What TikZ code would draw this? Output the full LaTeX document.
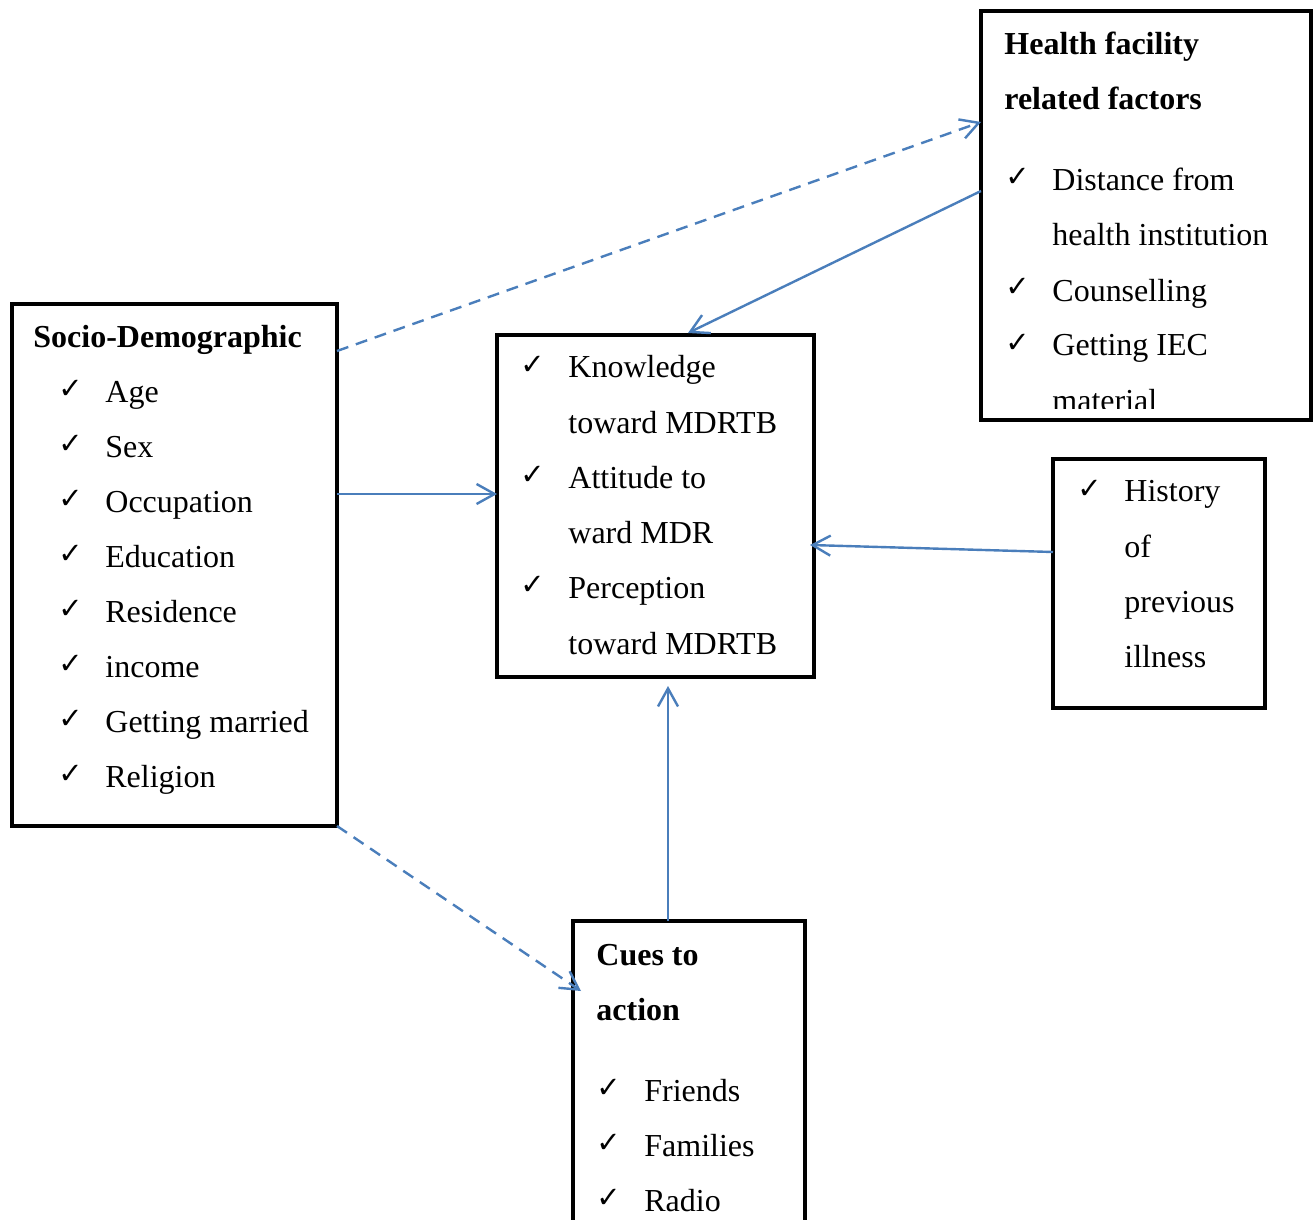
\documentclass[tikz,border=0pt]{standalone}
\usepackage{fontspec}
\setmainfont{Liberation Serif}
\newfontfamily\chkfont{DejaVu Sans}
\usetikzlibrary{arrows.meta}
\definecolor{arr}{HTML}{4A7EBB}
\begin{document}
\begin{tikzpicture}[x=0.5pt,y=-0.5pt,
 box/.style={draw, line width=2.25pt, inner sep=0, outer sep=0},
 txt/.style={anchor=base west, inner sep=0, font=\fontsize{16}{19}\selectfont},
 hd/.style={anchor=base west, inner sep=0, font=\fontsize{16}{19}\selectfont\bfseries},
 chk/.style={anchor=base west, inner sep=0, font=\chkfont\bfseries\fontsize{14.5}{17}\selectfont},
 link/.style={draw=arr, line width=1.2pt, -{Straight Barb[length=9pt,width=10pt]}},
 dlink/.style={link, dash pattern=on 6pt off 4pt}]
\useasboundingbox (0,0) rectangle (1314,1220);
\fill[white] (0,0) rectangle (1314,1220);

% boxes
\node[box, minimum width=162.5pt, minimum height=261pt] (socio) at (174.5,565) {};
\node[box, minimum width=158.5pt, minimum height=171pt] (center) at (655.5,506) {};
\node[box, minimum width=165pt, minimum height=204.5pt] (health) at (1146,215.5) {};
\node[box, minimum width=106pt, minimum height=124.5pt] (history) at (1159,583.5) {};
\node[inner sep=0, outer sep=0, minimum width=116pt, minimum height=154.5pt] (cues) at (689,1075.5) {};
\draw[line width=2.25pt] (cues.south west) -- (cues.north west) -- (cues.north east) -- (cues.south east);

% socio text
\node[hd] (sT) at (33,348) {Socio-Demographic};
\foreach \t [count=\i] in {Age,Sex,Occupation,Education,Residence,income,Getting married,Religion}{
  \node[chk] (sc\i) at (58,{398+55*(\i-1)}) {✓};
  \node[txt] (s\i) at (105,{402+55*(\i-1)}) {\t};
}

% center text
\foreach \t [count=\i] in {Knowledge,toward MDRTB,Attitude to,ward MDR,Perception,toward MDRTB}{
  \node[txt] (c\i) at (568,{378+55.2*(\i-1)}) {\t};
}
\node[chk] (cc1) at (520,374) {✓};
\node[chk] (cc2) at (520,484.4) {✓};
\node[chk] (cc3) at (520,594.8) {✓};

% health text
\node[hd] (hT1) at (1004,55) {Health facility};
\node[hd] (hT2) at (1004,110) {related factors};
\begin{scope}
\clip (985,15) rectangle (1307,408);
\foreach \t [count=\i] in {Distance from,health institution,Counselling,Getting IEC,material}{
  \node[txt] (h\i) at (1052,{191+55*(\i-1)}) {\t};
}
\end{scope}
\node[chk] (hc1) at (1005,187) {✓};
\node[chk] (hc2) at (1005,297) {✓};
\node[chk] (hc3) at (1005,352) {✓};

% history text
\node[chk] (pc1) at (1077,498) {✓};
\foreach \t [count=\i] in {History,of,previous,illness}{
  \node[txt] (p\i) at (1124,{502+55*(\i-1)}) {\t};
}

% cues text
\node[hd] (qT1) at (596,965) {Cues to};
\node[hd] (qT2) at (596,1020) {action};
\foreach \t [count=\i] in {Friends,Families,Radio}{
  \node[chk] (qc\i) at (596,{1097+55*(\i-1)}) {✓};
  \node[txt] (q\i) at (644,{1101+55*(\i-1)}) {\t};
}

% connectors
\draw[dlink] ([yshift=-23.5pt]socio.north east) -- ([yshift=-55.5pt]health.north west);
\draw[link] ([yshift=-90pt]health.north west) -- ([xshift=16.25pt,yshift=1pt]center.north);
\draw[link] ([yshift=-95pt]socio.north east) -- ([yshift=6pt]center.west);
\draw[link] ([yshift=15.75pt]history.west) -- ([xshift=-2pt,yshift=-19.5pt]center.east);
\draw[link] ([xshift=-10.5pt]cues.north) -- ([xshift=6.25pt,yshift=-4.5pt]center.south);
\draw[dlink] (socio.south east) -- ([xshift=4pt,yshift=-35pt]cues.north west);
\end{tikzpicture}
\end{document}
